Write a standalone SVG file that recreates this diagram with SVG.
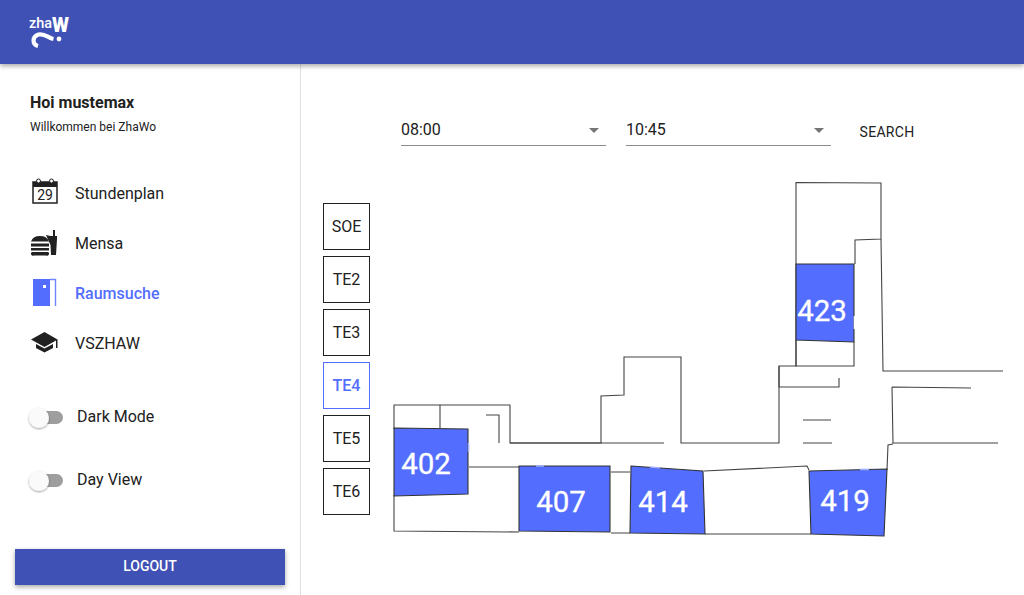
<svg xmlns="http://www.w3.org/2000/svg" width="1024" height="595" viewBox="0 0 1024 595">
<defs>
<filter id="sh" x="-10%" y="-30%" width="120%" height="170%"><feDropShadow dx="0" dy="2" stdDeviation="2.5" flood-color="#000" flood-opacity="0.35"/></filter>
<filter id="ks" x="-50%" y="-50%" width="200%" height="200%"><feDropShadow dx="0" dy="1" stdDeviation="1.2" flood-color="#000" flood-opacity="0.4"/></filter>
</defs>
<style>
text{font-family:Roboto,"Liberation Sans",sans-serif;fill:#212121}
.nav{font-size:16px}
.tab{font-size:16px;text-anchor:middle}
.tb{fill:#fff;stroke:#212121;stroke-width:1}
.w{fill:none;stroke:#444;stroke-width:1.1}
.r{fill:#536dfe;stroke:#333;stroke-width:1.1}
.rl{font-size:29.500px;fill:#fff;text-anchor:middle;font-weight:400;stroke:#fff;stroke-width:0.300}
.track{fill:#9e9e9e}
.knob{fill:#fafafa;filter:url(#ks)}
.ul{stroke:#8c8c8c;stroke-width:1}
.arr{fill:#757575}
.notch{stroke:#9fb0ff;stroke-width:1.6}
</style>
<rect width="1024" height="595" fill="#fff"/>
<line x1="300.500" y1="64" x2="300.500" y2="595" stroke="#e0e0e0"/>
<g id="header">
<rect width="1024" height="64" fill="#3f51b5" filter="url(#sh)"/>
<text x="29" y="28" font-size="14.500" style="fill:#fff" font-weight="500">zha</text>
<text x="52" y="32" font-size="21" style="fill:#fff" font-weight="900" textLength="17" lengthAdjust="spacingAndGlyphs">W</text>
<path d="M38 46C32 44.500 32 36.500 38.500 34.500C45 33 48 38 53.500 39" fill="none" stroke="#fff" stroke-width="4.200"/>
<circle cx="59" cy="39" r="2.400" fill="#fff"/>
</g>
<g id="sidebar-user">
<text x="30" y="108" font-size="16" font-weight="700">Hoi mustemax</text>
<text x="30" y="131" font-size="12">Willkommen bei ZhaWo</text>
</g>
<g id="nav-stundenplan">
<rect x="33" y="182" width="24" height="21" fill="none" stroke="#212121" stroke-width="1.500"/>
<rect x="33" y="182" width="24" height="5" fill="#212121"/>
<circle cx="38.500" cy="181" r="2" fill="#fff" stroke="#212121"/><circle cx="51.500" cy="181" r="2" fill="#fff" stroke="#212121"/>
<text x="45" y="200" font-size="14" text-anchor="middle">29</text>
<text class="nav" x="75" y="199">Stundenplan</text>
</g>
<g id="nav-mensa">
<path d="M31 241.500a9.500 8 0 0 1 18 0zM31 243.500h18v3h-18zM31 248h18v2.500h-18zM32 252h16a2 2 0 0 1-2 3.500h-12a2 2 0 0 1-2-3.500z" fill="#212121"/>
<path d="M46 235l4.500 1h2.500v-6h2v6h2v3l-1 16h-5l-.5-10z" fill="#212121"/>
<text class="nav" x="75" y="249">Mensa</text>
</g>
<g id="nav-raumsuche">
<path d="M33 279h17v27h-17z" fill="#536dfe"/>
<path d="M50 279.500h5.500v26.500" fill="none" stroke="#6f84fe" stroke-width="1.400"/>
<rect x="43" y="285" width="3" height="3" fill="#fff"/>
<text class="nav" x="75" y="299" style="fill:#536dfe" font-weight="500">Raumsuche</text>
</g>
<g id="nav-vszhaw">
<path d="M44.500 332L31 339.500L44.500 347L56 340.500V348H57.500V339.500z" fill="#212121"/>
<path d="M36 344v4l8.500 4.500l8.500-4.500v-4l-8.500 4.500z" fill="#212121"/>
<text class="nav" x="75" y="349">VSZHAW</text>
</g>
<g id="toggle-dark">
<rect class="track" x="39" y="411" width="24" height="13" rx="6.500"/>
<circle class="knob" cx="39" cy="418" r="10"/>
<text class="nav" x="77" y="422">Dark Mode</text>
</g>
<g id="toggle-day">
<rect class="track" x="39" y="474" width="24" height="13" rx="6.500"/>
<circle class="knob" cx="39" cy="481" r="10"/>
<text class="nav" x="77" y="485">Day View</text>
</g>
<g id="logout">
<rect x="15" y="549" width="270" height="36" fill="#3f51b5" filter="url(#sh)"/>
<text x="150" y="571" font-size="14" font-weight="500" text-anchor="middle" style="fill:#fff">LOGOUT</text>
</g>
<g id="select-from">
<text x="401" y="135" font-size="16">08:00</text>
<path class="arr" d="M589 128h10l-5 5z"/>
<line class="ul" x1="401" y1="145.500" x2="606" y2="145.500"/>
</g>
<g id="select-to">
<text x="626" y="135" font-size="16">10:45</text>
<path class="arr" d="M814 128h10l-5 5z"/>
<line class="ul" x1="626" y1="145.500" x2="831" y2="145.500"/>
</g>
<g id="search"><text x="887" y="137" font-size="14" text-anchor="middle" letter-spacing="0.300">SEARCH</text></g>
<g id="tab-soe"><rect class="tb" x="323.500" y="203.500" width="46" height="46"/><text class="tab" x="346.500" y="232">SOE</text></g>
<g id="tab-te2"><rect class="tb" x="323.500" y="256.500" width="46" height="46"/><text class="tab" x="346.500" y="285">TE2</text></g>
<g id="tab-te3"><rect class="tb" x="323.500" y="309.500" width="46" height="46"/><text class="tab" x="346.500" y="338">TE3</text></g>
<g id="tab-te4"><rect class="tb" style="stroke:#536dfe" x="323.500" y="362.500" width="46" height="46"/><text class="tab" x="346.500" y="391" style="fill:#536dfe" font-weight="500">TE4</text></g>
<g id="tab-te5"><rect class="tb" x="323.500" y="415.500" width="46" height="46"/><text class="tab" x="346.500" y="444">TE5</text></g>
<g id="tab-te6"><rect class="tb" x="323.500" y="468.500" width="46" height="46"/><text class="tab" x="346.500" y="497">TE6</text></g>
<g id="walls">
<path class="w" d="M394 429V405H440V428M440 405H510V443H601V396L624 395V357H681V443H779V366H796V182.500L881 183V239L855 240V264"/>
<path class="w" d="M486 415H499V443M510 443H664"/>
<path class="w" d="M881 239L883 371H1003"/>
<path class="w" d="M796 340V366H854V342M779 366V387H839V378"/>
<path class="w" d="M803 420H831M803 443H832"/>
<path class="w" d="M892 387L971 388M892 387L893 443H998M893 444L888 445L887 470"/>
<path class="w" d="M469 467H519M611 472H630M704 471L807 466L809 470M394 495V531L519 532M611 533H630M705 534H811"/>
</g>
<g id="room-402"><path class="r" d="M394 428L468 429V494L394 496z"/><line class="notch" x1="468.500" y1="443" x2="468.500" y2="452"/><text class="rl" x="426" y="474">402</text></g>
<g id="room-407"><path class="r" d="M519 466H610V532L519 531z"/><line class="notch" x1="536" y1="466" x2="544" y2="466"/><text class="rl" x="561" y="512">407</text></g>
<g id="room-414"><path class="r" d="M631 466L703 471L705 534L630 533z"/><line class="notch" x1="650" y1="467" x2="660" y2="468"/><text class="rl" x="663" y="512">414</text></g>
<g id="room-419"><path class="r" d="M809 471L887 469L884 536L811 534z"/><line class="notch" x1="860" y1="469.500" x2="869" y2="469.500"/><text class="rl" x="845" y="511">419</text></g>
<g id="room-423"><path class="r" d="M796 264H854V342L796 340z"/><line x1="854.500" y1="316" x2="854.500" y2="329" stroke="#fff" stroke-width="1.600"/><text class="rl" x="822" y="321">423</text></g>
</svg>
